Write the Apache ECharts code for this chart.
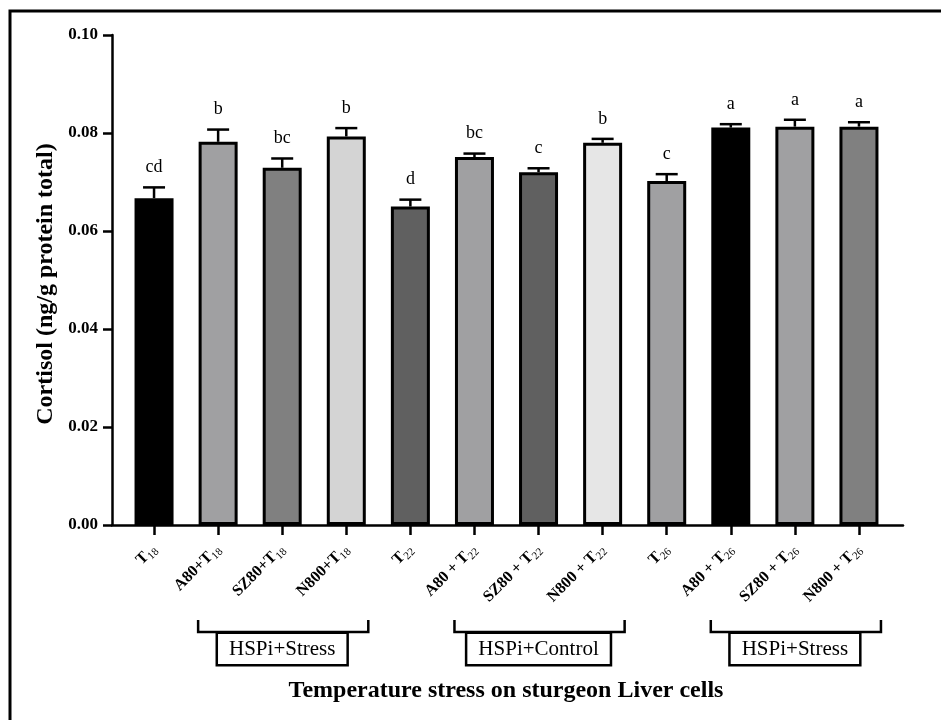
<!DOCTYPE html>
<html>
<head>
<meta charset="utf-8">
<script src="https://cdn.jsdelivr.net/npm/echarts@6/dist/echarts.min.js"></script>
<style>
html,body{margin:0;padding:0;background:#fff;}
#chart{width:941px;height:720px;}
</style>
</head>
<body>
<div id="chart"></div>
<script>
// ---- data ----
const categories = ['T18','A80+T18','SZ80+T18','N800+T18','T22','A80 + T22','SZ80 + T22','N800 + T22','T26','A80 + T26','SZ80 + T26','N800 + T26'];
const means = [0.0667,0.0782,0.0729,0.0793,0.0650,0.0751,0.0720,0.0780,0.0702,0.0811,0.0813,0.0813];
const sems  = [0.0022,0.0025,0.0019,0.0017,0.0014,0.0007,0.0008,0.0008,0.0014,0.0007,0.0014,0.0009];
const letters = ['cd','b','bc','b','d','bc','c','b','c','a','a','a'];
const yTicks = [0, 0.02, 0.04, 0.06, 0.08, 0.10];
const groups = [
  {label:'HSPi+Stress', from:1, to:3},
  {label:'HSPi+Control', from:5, to:7},
  {label:'HSPi+Stress', from:9, to:11}
];
const yTitle = 'Cortisol (ng/g protein total)';
const xTitle = 'Temperature stress on sturgeon Liver cells';

// ---- style ----
const barColors = ['#000000','#a0a0a2','#808080','#d4d4d4','#606060','#a0a0a2','#606060','#e6e6e6','#a0a0a2','#000000','#a0a0a2','#808080'];
const SERIF = '"Liberation Serif","Times New Roman",serif';

const chart = echarts.init(document.getElementById('chart'));

function fmtLabel(v){
  const m = v.match(/^(.*?)(\d+)$/);
  if(!m) return '{m|'+v+'}';
  return '{m|'+m[1]+'}{s|'+m[2]+'}';
}

const option = {
  backgroundColor:'#fff',
  animation:false,
  grid:[
    {left:122, width:769, top:35, height:490, containLabel:false},
    {left:112, width:791, top:35, height:490, containLabel:false}
  ],
  xAxis:[
    {
      type:'category', gridIndex:0, data:categories,
      axisLine:{show:false},
      axisTick:{show:true, alignWithLabel:true, length:10, lineStyle:{color:'#000', width:2.5}},
      axisLabel:{
        rotate:45, margin:22, interval:0,
        formatter:fmtLabel,
        rich:{
          m:{fontFamily:SERIF, fontWeight:'bold', fontSize:16, color:'#000', lineHeight:20, verticalAlign:'middle'},
          s:{fontFamily:SERIF, fontWeight:'normal', fontSize:11, color:'#000', lineHeight:11, verticalAlign:'bottom'}
        }
      },
      splitLine:{show:false}
    },
    {
      type:'value', gridIndex:1, min:0, max:1,
      axisLine:{show:true, lineStyle:{color:'#000', width:2.5}},
      axisTick:{show:false}, axisLabel:{show:false}, splitLine:{show:false}
    }
  ],
  yAxis:[
    {
      type:'value', gridIndex:0, min:0, max:0.1, interval:0.02,
      axisLine:{show:false}, axisTick:{show:false}, axisLabel:{show:false}, splitLine:{show:false}
    },
    {
      type:'value', gridIndex:1, min:yTicks[0], max:yTicks[yTicks.length-1], interval:yTicks[1]-yTicks[0],
      axisLine:{show:true, lineStyle:{color:'#000', width:2.5}},
      axisTick:{show:true, length:9, lineStyle:{color:'#000', width:2.5}},
      axisLabel:{margin:14, fontFamily:SERIF, fontWeight:'bold', fontSize:17, color:'#000',
        formatter:v=>v.toFixed(2)},
      splitLine:{show:false}
    }
  ],
  series:[
    {
      type:'bar', xAxisIndex:0, yAxisIndex:0, barWidth:39,
      data: means.map((v,i)=>({value:v, itemStyle:{color:barColors[i]}})),
      itemStyle:{borderColor:'#000', borderWidth:3},
      z:2
    },
    {
      type:'custom', xAxisIndex:0, yAxisIndex:0, z:3,
      data: means.map((v,i)=>[i, v, sems[i]]),
      renderItem:function(params, api){
        const i = api.value(0);
        const base = api.coord([i, api.value(1)]);
        const top = api.coord([i, api.value(1)+api.value(2)]);
        const x = base[0];
        return {
          type:'group',
          children:[
            {type:'line', shape:{x1:x, y1:base[1], x2:x, y2:top[1]}, style:{stroke:'#000', lineWidth:2.5}},
            {type:'line', shape:{x1:x-11, y1:top[1], x2:x+11, y2:top[1]}, style:{stroke:'#000', lineWidth:2.5}},
            {type:'text', style:{text:letters[i], x:x, y:top[1]-20, align:'center', verticalAlign:'middle',
              font:'18px '+SERIF, fill:'#000'}}
          ]
        };
      }
    }
  ]
};
chart.setOption(option);

// ---- annotations: frame, titles, group brackets ----
const gfx = [
  {type:'rect', shape:{x:10, y:11, width:960, height:760}, style:{fill:'none', stroke:'#000', lineWidth:3}, silent:true},
  {type:'text', x:46, y:284, rotation:Math.PI/2,
    style:{text:yTitle, font:'bold 24px '+SERIF, fill:'#000', align:'center', verticalAlign:'middle'}},
  {type:'text', x:506, y:691,
    style:{text:xTitle, font:'bold 24px '+SERIF, fill:'#000', align:'center', verticalAlign:'middle'}}
];
groups.forEach(g=>{
  const x1 = chart.convertToPixel({xAxisIndex:0}, categories[g.from]);
  const x2 = chart.convertToPixel({xAxisIndex:0}, categories[g.to]);
  const cx = (x1+x2)/2;
  gfx.push({type:'polyline', shape:{points:[[x1-20,620],[x1-20,632],[x2+22,632],[x2+22,620]]},
    style:{fill:'none', stroke:'#000', lineWidth:2.5}});
  gfx.push({type:'text', x:cx, y:649,
    style:{text:g.label, font:'21px '+SERIF, fill:'#000', align:'center', verticalAlign:'middle',
      padding:[5,11,4,11], borderColor:'#000', borderWidth:2.5, backgroundColor:'#fff'}});
});
chart.setOption({graphic:gfx});
</script>
</body>
</html>
